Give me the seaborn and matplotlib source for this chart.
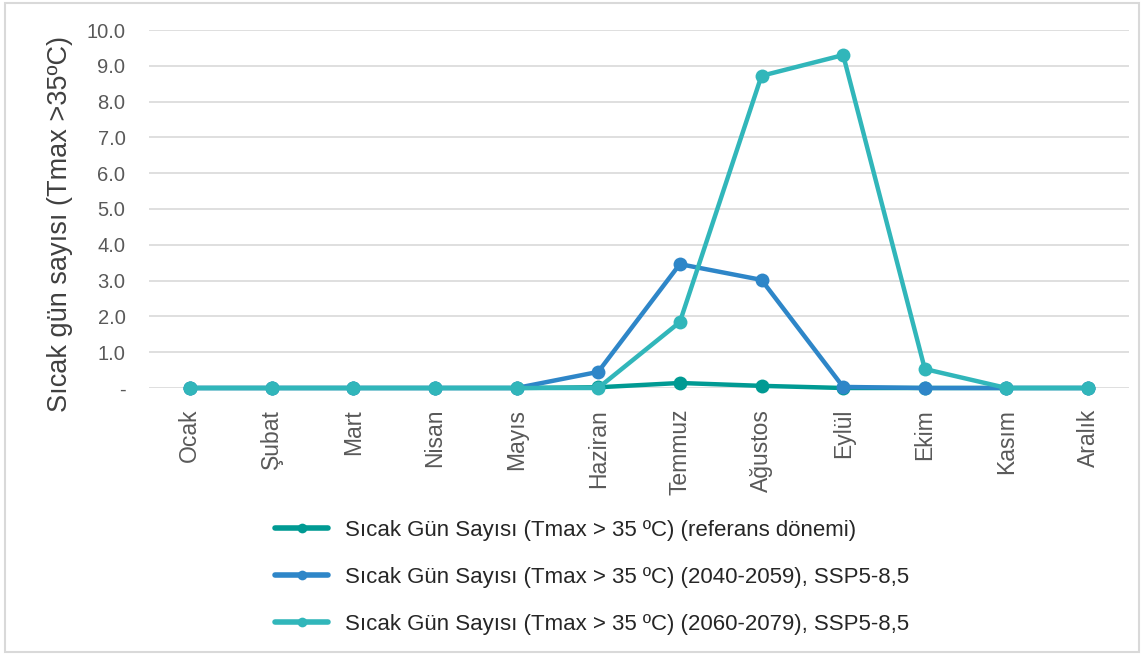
import matplotlib
matplotlib.use('Agg')
import matplotlib.pyplot as plt
import matplotlib.patches as mpatches
from matplotlib.lines import Line2D
import pandas as pd
import seaborn as sns

months = ['Ocak', 'Şubat', 'Mart', 'Nisan', 'Mayıs', 'Haziran',
          'Temmuz', 'Ağustos', 'Eylül', 'Ekim', 'Kasım', 'Aralık']
ref_period = [0, 0, 0, 0, 0, 0.02, 0.14, 0.06, 0, 0, 0, 0]
ssp_2040 = [0, 0, 0, 0, 0, 0.45, 3.46, 3.02, 0.03, 0, 0, 0]
ssp_2060 = [0, 0, 0, 0, 0, 0, 1.84, 8.72, 9.3, 0.53, 0, 0]

labels = ['Sıcak Gün Sayısı (Tmax > 35 ºC) (referans dönemi)',
          'Sıcak Gün Sayısı (Tmax > 35 ºC) (2040-2059), SSP5-8,5',
          'Sıcak Gün Sayısı (Tmax > 35 ºC) (2060-2079), SSP5-8,5']
colors = ['#009a93', '#2e86c8', '#31b6ba']

rows = []
for lab, vals in zip(labels, [ref_period, ssp_2040, ssp_2060]):
    for m, v in zip(months, vals):
        rows.append({'ay': m, 'deger': v, 'seri': lab})
df = pd.DataFrame(rows)

sns.set_style('white')
plt.rcParams['font.family'] = ['Liberation Sans', 'DejaVu Sans']

fig = plt.figure(figsize=(11.44, 6.55), dpi=100)
ax = fig.add_axes([149 / 1144, 1 - 388 / 655, 980 / 1144, 358 / 655])

sns.lineplot(data=df, x='ay', y='deger', hue='seri', hue_order=labels,
             palette=colors, marker='o', markersize=10, markeredgewidth=0,
             linewidth=3.2, sort=False, legend=False, ax=ax, clip_on=False)

ax.set_xlim(-0.5, 11.5)
ax.set_ylim(0, 10)
ax.set_yticks(range(0, 11))
ax.set_yticklabels(['-'] + ['%.1f' % v for v in range(1, 11)])
ax.grid(axis='y', color='#d9d9d9', linewidth=1.2)
ax.grid(axis='x', visible=False)
ax.set_axisbelow(True)
for s in ax.spines.values():
    s.set_visible(False)
ax.tick_params(axis='y', length=0, pad=17, labelsize=14.5, labelcolor='#595959')
ax.tick_params(axis='x', length=0, pad=15, labelsize=16.5, labelcolor='#595959',
               rotation=90)
ax.set_xlabel('')
ax.set_ylabel('')
fig.text(60 / 1144, 1 - 224 / 655, 'Sıcak gün sayısı (Tmax >35ºC)', rotation=90,
         ha='center', va='center', fontsize=19.5, color='#404040')

handles = [Line2D([], [], color=c, linewidth=4, marker='o', markersize=7,
                  markeredgewidth=0) for c in colors]
fig.legend(handles, labels, loc='upper left',
           bbox_to_anchor=(275 / 1144, 1 - 520 / 655), frameon=False,
           fontsize=16, labelcolor='#262626', handlelength=2.4,
           handletextpad=0.75, labelspacing=1.16, borderpad=0, borderaxespad=0)

fig.patches.append(mpatches.Rectangle((0.004, 0.004), 0.992, 0.992,
                                      transform=fig.transFigure, fill=False,
                                      edgecolor='#d9d9d9', linewidth=1.5))

fig.savefig('out.png', dpi=100)
